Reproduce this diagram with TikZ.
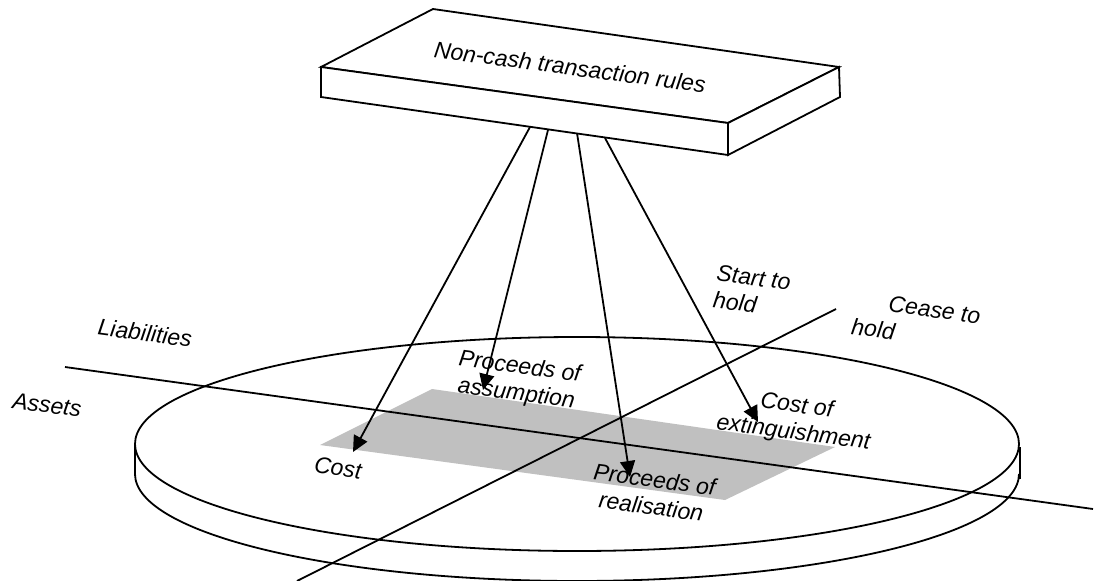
\documentclass[tikz,border=0pt]{standalone}
\usepackage{fontspec}
\setmainfont{Liberation Sans}
\usetikzlibrary{arrows.meta}
\definecolor{panel}{RGB}{192,192,192}
\begin{document}
\begin{tikzpicture}[x=1pt,y=-1pt,line width=1.8pt,line join=miter,
  lbl/.style={font=\fontsize{23}{27}\selectfont\itshape,rotate=-7.5,align=center,inner sep=0pt},
  lblleft/.style={lbl,align=left},
  rulearrow/.style={-{Triangle[length=16pt,width=15pt]}},
  face/.style={draw,fill=white}]
\useasboundingbox (0,0) rectangle (1098,581);

% disc: lower rim, sides and top
\draw (135,474) arc[start angle=180,end angle=0,x radius=442,y radius=107];
\draw (135,444) -- (135,476);
\draw (1020,447) -- (1020,479);
\draw[face] (577,444) ellipse [x radius=442,y radius=107];

% shaded plane on the disc
\fill[panel] (320,445) -- (432,389) -- (835,447) -- (725,500) -- cycle;

% axes
\coordinate (liabA) at (65,367);
\coordinate (liabB) at (1093,509);
\coordinate (holdA) at (297,581);
\coordinate (holdB) at (836,309);
\draw (liabA) -- (liabB);
\draw (holdA) -- (holdB);

% slab
\coordinate (tl) at (433,9);
\coordinate (fl) at (321,67);
\coordinate (fr) at (728,123);
\coordinate (br) at (839,67);
\coordinate (flb) at (321,97);
\coordinate (frb) at (728,155);
\coordinate (brb) at (840,97);

% arrow end points
\coordinate (fromCost) at (530,127);
\coordinate (fromAssump) at (548,130);
\coordinate (fromReal) at (577,133);
\coordinate (fromExt) at (605,138);
\coordinate (toCost) at (353,452);
\coordinate (toAssump) at (483,390);
\coordinate (toReal) at (630,477);
\coordinate (toExt) at (758,422);

\draw[rulearrow] (fromCost) -- (toCost);
\draw[rulearrow] (fromAssump) -- (toAssump);
\draw[rulearrow] (fromReal) -- (toReal);
\draw[rulearrow] (fromExt) -- (toExt);

\draw[face] (tl) -- (fl) -- (fr) -- (br) -- cycle;
\draw[face] (fl) -- (fr) -- (frb) -- (flb) -- cycle;
\draw[face] (fr) -- (br) -- (brb) -- (frb) -- cycle;

% labels
\node[lbl] (rules) at (570,67) {Non-cash transaction rules};
\node[lbl] (liab) at (145,333) {Liabilities};
\node[lbl] (assets) at (47,405) {Assets};
\node[lbl] (assump) at (518,381) {Proceeds of\\assumption};
\node[lbl] (cost) at (338,468) {Cost};
\node[lbl] (real) at (653,493) {Proceeds of\\realisation};
\node[lbl] (ext) at (795,420) {Cost of\\extinguishment};
\node[lblleft] (start) at (752,291) {Start to\\hold};
\node[lblleft] (cease) at (916,321) {\hspace*{34pt}Cease to\\hold};
\end{tikzpicture}
\end{document}
